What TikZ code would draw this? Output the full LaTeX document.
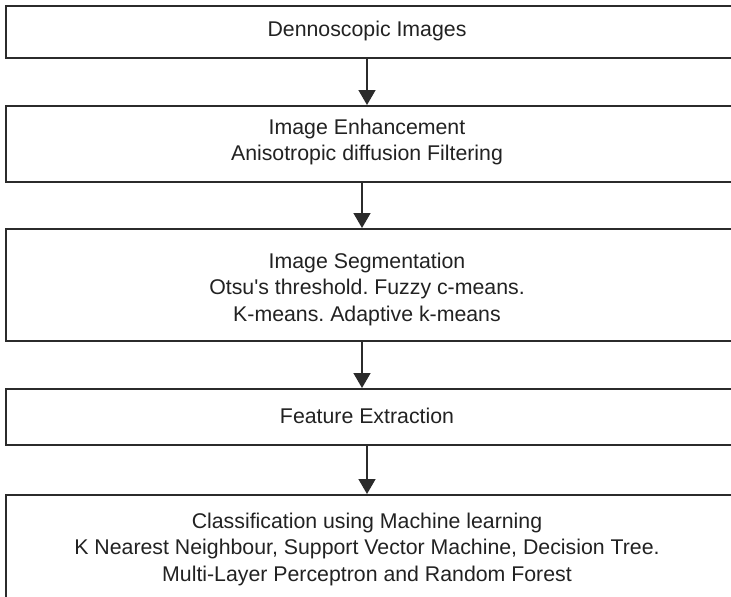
\documentclass[tikz,border=0pt]{standalone}
\usepackage{fontspec}
\setmainfont{Liberation Sans}[Ligatures=TeXOff]
\usetikzlibrary{arrows.meta}
\definecolor{ink}{HTML}{2B2B2B}
\definecolor{txt}{HTML}{222222}
\frenchspacing
\begin{document}
\begin{tikzpicture}[x=1pt,y=-1pt,
  boxshape/.style={draw=ink,line width=2.2pt,rectangle,inner sep=0pt,anchor=north west},
  label/.style={align=center,text=txt,font=\fontsize{21.3}{26.5}\selectfont,inner sep=0pt},
  arr/.style={draw=ink,line width=1.5pt,-{Triangle[width=17pt,length=15pt]}}]
\useasboundingbox (0,0) rectangle (731,597);
\fill[white] (0,0) rectangle (731,597);
% boxes (right edge runs past the picture)
\node[boxshape,minimum width=740pt,minimum height=52pt] (b1) at (5,5) {};
\node[boxshape,minimum width=740pt,minimum height=76pt] (b2) at (5,105) {};
\node[boxshape,minimum width=740pt,minimum height=112pt] (b3) at (5,228) {};
\node[boxshape,minimum width=740pt,minimum height=56pt] (b4) at (5,388) {};
\node[boxshape,minimum width=740pt,minimum height=106pt] (b5) at (5,494) {};
% texts
\node[label] (t1) at (367,31) {Dennoscopic Images};
\node[label] (t2) at (367,142) {Image Enhancement\\Anisotropic diffusion Filtering};
\node[label] (t3) at (367,289) {Image Segmentation\\Otsu's threshold. Fuzzy c-means.\\K-means. Adaptive k-means};
\node[label] (t4) at (367,416) {Feature Extraction};
\node[label] (t5) at (367,549) {Classification using Machine learning\\K Nearest Neighbour, Support Vector Machine, Decision Tree.\\Multi-Layer Perceptron and Random Forest};
% connectors
\coordinate (c1) at (367,0);
\coordinate (c2) at (362,0);
\draw[arr] (b1.south -| c1) -- (b2.north -| c1);
\draw[arr] (b2.south -| c2) -- (b3.north -| c2);
\draw[arr] (b3.south -| c2) -- (b4.north -| c2);
\draw[arr] (b4.south -| c1) -- (b5.north -| c1);
\end{tikzpicture}
\end{document}
